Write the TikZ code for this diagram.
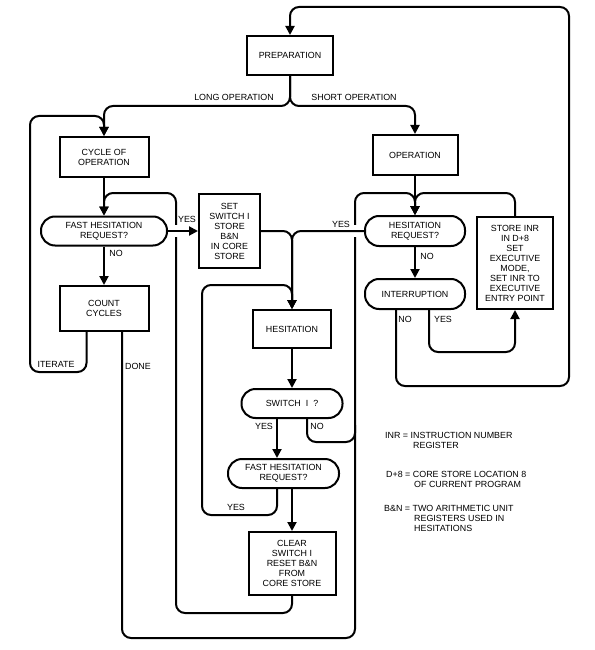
\documentclass[tikz,border=0pt]{standalone}
\usepackage{fontspec}
\setmainfont{Liberation Sans}
\usetikzlibrary{arrows.meta,calc}
\begin{document}
\begin{tikzpicture}[x=1pt,y=-1pt,
  every node/.style={font=\fontsize{8.9}{10}\selectfont, inner sep=0pt},
  box/.style={draw, line width=2pt, align=center},
  oval/.style={draw, line width=2pt, align=center, rounded corners=14pt},
  flow/.style={line width=2pt, rounded corners=9pt},
  arr/.style={flow, -{Triangle[width=9pt,length=9pt]}},
  legend/.style={anchor=west, align=left}
]
\fill[white] (0,0) rectangle (594,650);
\useasboundingbox (0,0) rectangle (594,650);

% ---------- nodes ----------
\node[box, minimum width=86pt, minimum height=39pt] (prep) at (290,55.5) {PREPARATION};
\node[box, minimum width=89pt, minimum height=40pt] (cycle) at (104,157) {CYCLE OF\\OPERATION};
\node[box, minimum width=85pt, minimum height=40pt] (op) at (415,155) {OPERATION};
\node[oval, minimum width=126pt, minimum height=29pt] (fhr1) at (104,231) {FAST HESITATION\\REQUEST?};
\node[box, minimum width=61pt, minimum height=74pt] (setsw) at (229.5,231) {SET\\SWITCH I\\STORE\\B\&N\\IN CORE\\STORE};
\node[oval, minimum width=100pt, minimum height=30pt] (hreq) at (415,231) {HESITATION\\REQUEST?};
\node[box, minimum width=89pt, minimum height=45pt] (count) at (104,308.5) {COUNT\\CYCLES};
\node[oval, minimum width=100pt, minimum height=30pt] (intr) at (415,294) {INTERRUPTION};
\node[box, minimum width=76pt, minimum height=92pt] (store) at (515,263) {STORE INR\\IN D+8\\SET\\EXECUTIVE\\MODE,\\SET INR TO\\EXECUTIVE\\ENTRY POINT};
\node[box, minimum width=78pt, minimum height=38pt] (hes) at (292,329) {HESITATION};
\node[oval, minimum width=101pt, minimum height=29pt] (sw) at (292,403.5) {SWITCH\ \ I\ \ ?};
\node[oval, minimum width=111pt, minimum height=29pt] (fhr2) at (283.5,473.5) {FAST HESITATION\\REQUEST?};
\node[box, minimum width=87pt, minimum height=63pt] (clear) at (292,563.5) {CLEAR\\SWITCH I\\RESET B\&N\\FROM\\CORE STORE};

% ---------- ports ----------
\coordinate (intrno) at ($(intr.south)+(-19,0)$);
\coordinate (intryes) at ($(intr.south)+(14,0)$);
\coordinate (cntit) at ($(count.south)+(-17.5,0)$);
\coordinate (cntdone) at ($(count.south)+(18,0)$);
\coordinate (swyes) at ($(sw.south)+(-15,0)$);
\coordinate (swno) at ($(sw.south)+(15,0)$);
\coordinate (fh2yes) at ($(fhr2.south)+(-6.5,0)$);

% ---------- connectors ----------
\draw[arr] (intrno) |- (569,386) |- (290,7) -- (prep.north);
\draw[arr] (prep.south) |- (104,106) -- (cycle.north);
\draw[arr] (prep.south) |- (415,106) -- (op.north);
\draw[arr] (cntit) |- (30,372) |- (104,116) -- (cycle.north);
\draw[arr] (cycle.south) -- (fhr1.north);
\draw[arr] (clear.south) |- (176,613) |- (104,193) -- (fhr1.north);
\draw[arr] (fhr1.south) -- (count.north);
\draw[arr] (cntdone) |- (355,638) |- (415,193) -- (hreq.north);
\draw[flow] (swno) |- (355,442) -- (355,425);
\draw[arr] (store.north) |- (415,193) -- (hreq.north);
\draw[arr] (op.south) -- (hreq.north);
% line-crossing gaps
\fill[white] (171,225) rectangle (181,237);
\fill[white] (350,225) rectangle (360,237);
\draw[arr] (fhr1.east) -- (setsw.west);
\draw[arr] (hreq.west) -| (hes.north);
\draw[arr] (setsw.east) -| (hes.north);
\draw[arr] (fh2yes) |- (202,515) |- (292,285) -- (hes.north);
\draw[arr] (hes.south) -- (sw.north);
\draw[arr] (swyes) -- (swyes |- fhr2.north);
\draw[arr] (fhr2.south -| clear.north) -- (clear.north);
\draw[arr] (hreq.south) -- (intr.north);
\draw[arr] (intryes) |- (515,352) -- (store.south);

% ---------- labels ----------
\node (lLong) at (234,97) {LONG OPERATION};
\node (lShort) at (354,97) {SHORT OPERATION};
\node (lYes1) at (187,219) {YES};
\node (lNo1) at (116,253) {NO};
\node (lYes2) at (341,224) {YES};
\node (lNo2) at (427,256) {NO};
\node (lNo3) at (405,319) {NO};
\node (lYes3) at (443,319) {YES};
\node (lIter) at (56,364) {ITERATE};
\node (lDone) at (138,366) {DONE};
\node (lYes4) at (264,426) {YES};
\node (lNo4) at (317,426) {NO};
\node (lYes5) at (236,507) {YES};

% ---------- legend ----------
\node[legend] (g1) at (385,435) {INR = INSTRUCTION NUMBER};
\node[legend] (g2) at (413,445) {REGISTER};
\node[legend] (g3) at (386,474) {D+8 = CORE STORE LOCATION 8};
\node[legend] (g4) at (414,484) {OF CURRENT PROGRAM};
\node[legend] (g5) at (384,508) {B\&N = TWO ARITHMETIC UNIT};
\node[legend] (g6) at (414,518) {REGISTERS USED IN};
\node[legend] (g7) at (414,528) {HESITATIONS};
\end{tikzpicture}
\end{document}
